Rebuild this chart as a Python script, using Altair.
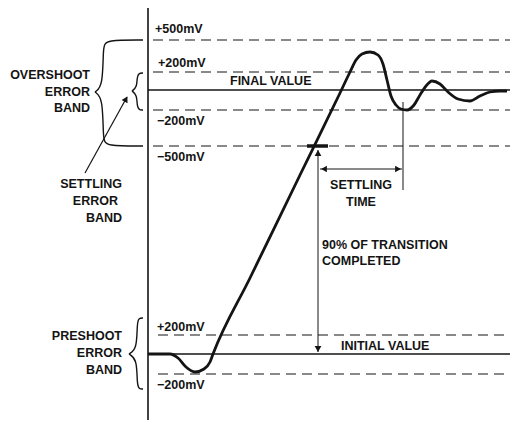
import altair as alt
import pandas as pd

# ---- diagram coordinates (time axis -> x units, level axis -> y units, y grows downward) ----
# dashed error-band limits: (label, y level, x start, x end)
band_labels = ["+500mV", "+200mV", "-200mV", "-500mV", "+200mV_i", "-200mV_i"]
band_y = [40, 72, 110, 146, 335, 374]
band_x0 = [153, 153, 153, 153, 158, 158]
band_x1 = [516, 516, 516, 516, 514, 514]

# solid reference levels
level_names = ["FINAL", "INITIAL"]
level_y = [90, 354]
level_x0 = [148, 148]
level_x1 = [518, 518]

# waveform samples
wave_x = [148, 170, 178, 186, 195, 204, 210, 213, 250, 300, 340, 350, 356, 362, 370, 378, 383, 387,
          391, 396, 401, 407, 414, 420, 426, 432, 440, 448, 458, 470, 480, 490, 500, 507]
wave_y = [354, 354, 358, 367, 372, 369, 362, 354, 278, 175, 93, 72, 60, 54, 52, 55, 64, 80,
          96, 105, 109, 110, 105, 95, 86, 81, 84, 92, 99, 101, 96, 92, 91, 91]

# curly braces (two halves each, meeting at the tip)
brace_id = (["ov_top"] * 5 + ["ov_bot"] * 5 + ["se_top"] * 5 + ["se_bot"] * 5
            + ["pr_top"] * 5 + ["pr_bot"] * 5)
brace_x = [143, 106, 103, 103, 95,   143, 106, 103, 103, 95,
           143, 139, 137, 137, 132,  143, 139, 137, 137, 132,
           143, 139, 137, 137, 129,  143, 139, 137, 137, 129]
brace_y = [40, 40, 46, 86, 92,       146, 146, 140, 98, 92,
           73, 73, 77, 87, 91,       110, 110, 106, 95, 91,
           318, 318, 323, 349, 354,  389, 389, 384, 359, 354]

# thin guide lines / arrows: (id, x, y, x2, y2)
guide_id = ["axis", "transition", "settle_h", "settle_v", "band_arrow"]
guide_x = [148, 318, 320, 403, 85]
guide_y = [8, 150, 169, 102, 173]
guide_x2 = [148, 318, 402, 403, 127]
guide_y2 = [420, 352, 169, 190, 97]
guide_w = [1.6, 1.0, 1.0, 1.0, 1.2]

# 90% marker
marker_x = [307, 328]
marker_y = [146, 146]

# arrow heads: (x, y, shape, angle)
head_x = [318, 318, 324, 398, 126]
head_y = [153, 349, 169, 169, 99]
head_shape = ["triangle-up", "triangle-down", "triangle-left", "triangle-right", "triangle-up"]
head_angle = [0, 0, 0, 0, 29]

# text labels
text_values = ["+500mV", "+200mV", "FINAL VALUE", "\u2212200mV", "\u2212500mV",
               "+200mV", "INITIAL VALUE", "\u2212200mV",
               "90% OF TRANSITION", "COMPLETED",
               "OVERSHOOT", "ERROR", "BAND",
               "SETTLING", "ERROR", "BAND",
               "PRESHOOT", "ERROR", "BAND",
               "SETTLING", "TIME"]
text_x = [155, 158, 230, 157, 157,
          157, 341, 157,
          322, 322,
          90, 90, 90,
          122, 118, 122,
          122, 122, 122,
          361, 361]
text_y = [33, 67, 85, 125, 161,
          331, 350, 389,
          249, 265,
          79, 96, 112,
          188, 205, 222,
          340, 357, 374,
          189, 206]
text_align = ["left"] * 10 + ["right"] * 9 + ["center"] * 2

# ---------------------------------------------------------------------------
XS = alt.Scale(domain=[8, 510], nice=False, zero=False)
YS = alt.Scale(domain=[8, 420], nice=False, zero=False, reverse=True)
X = lambda f: alt.X(f, type="quantitative", scale=XS, axis=None)
Y = lambda f: alt.Y(f, type="quantitative", scale=YS, axis=None)

bands = pd.DataFrame({"name": band_labels, "y": band_y, "x0": band_x0, "x1": band_x1})
levels = pd.DataFrame({"name": level_names, "y": level_y, "x0": level_x0, "x1": level_x1})
wave = pd.DataFrame({"x": wave_x, "y": wave_y})
braces = pd.DataFrame({"id": brace_id, "x": brace_x, "y": brace_y,
                       "i": list(range(len(brace_x)))})
guides = pd.DataFrame({"id": guide_id, "x": guide_x, "y": guide_y,
                       "x2": guide_x2, "y2": guide_y2, "w": guide_w})
marker = pd.DataFrame({"x": [marker_x[0]], "x2": [marker_x[1]], "y": [marker_y[0]]})
heads = pd.DataFrame({"x": head_x, "y": head_y, "shape": head_shape, "angle": head_angle})
texts = pd.DataFrame({"t": text_values, "x": text_x, "y": text_y, "align": text_align})

INK = "#141414"

band_layer = alt.Chart(bands).mark_rule(color=INK, strokeWidth=1.2, strokeDash=[10, 6]).encode(
    x=X("x0"), x2="x1", y=Y("y"))
level_layer = alt.Chart(levels).mark_rule(color=INK, strokeWidth=1.6).encode(
    x=X("x0"), x2="x1", y=Y("y"))
wave_layer = alt.Chart(wave).mark_line(color=INK, strokeWidth=2.8, interpolate="monotone").encode(
    x=X("x"), y=Y("y"))
brace_layer = alt.Chart(braces).mark_line(color=INK, strokeWidth=1.4, interpolate="basis").encode(
    x=X("x"), y=Y("y"), detail="id:N", order="i:Q")
guide_layer = alt.Chart(guides).mark_rule(color=INK).encode(
    x=X("x"), y=Y("y"), x2="x2", y2="y2",
    strokeWidth=alt.StrokeWidth("w:Q", scale=None, legend=None))
marker_layer = alt.Chart(marker).mark_rule(color=INK, strokeWidth=3.5).encode(
    x=X("x"), x2="x2", y=Y("y"))
head_layer = alt.Chart(heads).mark_point(filled=True, color=INK, size=45, opacity=1).encode(
    x=X("x"), y=Y("y"),
    shape=alt.Shape("shape:N", scale=None, legend=None),
    angle=alt.Angle("angle:Q", scale=None))

text_layers = []
for a in ["left", "right", "center"]:
    text_layers.append(
        alt.Chart(texts[texts["align"] == a]).mark_text(
            align=a, baseline="alphabetic", font="Liberation Sans", fontWeight="bold",
            fontSize=12.5, color=INK).encode(x=X("x"), y=Y("y"), text="t:N"))

chart = alt.layer(band_layer, level_layer, brace_layer, guide_layer, marker_layer,
                  wave_layer, head_layer, *text_layers).properties(
    width=502, height=412, padding=0,
    autosize=alt.AutoSizeParams(type="none"),
    background="white",
).configure_view(strokeWidth=0)

chart.save("out.html", embed_options={"renderer": "svg", "actions": False})
